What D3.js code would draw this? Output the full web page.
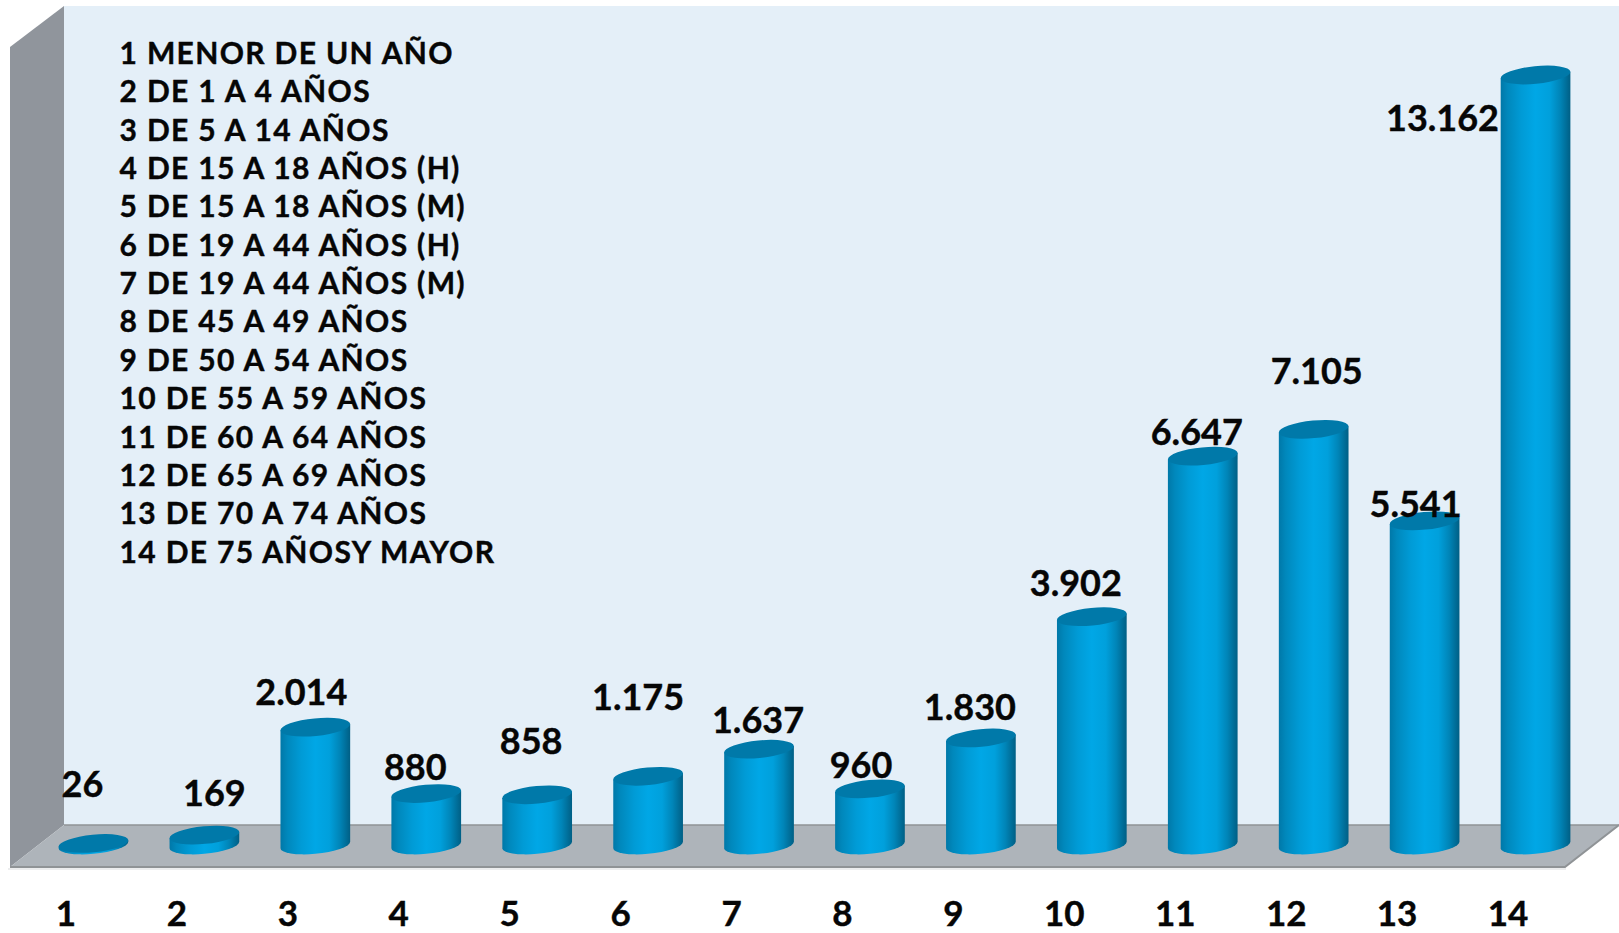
<!DOCTYPE html>
<html><head><meta charset="utf-8">
<script src="https://cdn.jsdelivr.net/npm/d3@7/dist/d3.min.js"></script>
<style>html,body{margin:0;padding:0;background:#fff}svg{display:block}text{font-family:Lato,sans-serif;font-weight:700;fill:#060606;stroke:#060606;stroke-width:.4px}</style>
</head><body><svg id="c" width="1619" height="933"></svg>
<script>
const categories=["1","2","3","4","5","6","7","8","9","10","11","12","13","14"];
const values=[26,169,2014,880,858,1175,1637,960,1830,3902,6647,7105,5541,13162];
const valueLabels=["26","169","2.014","880","858","1.175","1.637","960","1.830","3.902","6.647","7.105","5.541","13.162"];
const legendLines=["1 MENOR DE UN AÑO","2 DE 1 A 4 AÑOS","3 DE 5 A 14 AÑOS","4 DE 15 A 18 AÑOS (H)","5 DE 15 A 18 AÑOS (M)","6 DE 19 A 44 AÑOS (H)","7 DE 19 A 44 AÑOS (M)","8 DE 45 A 49 AÑOS","9 DE 50 A 54 AÑOS","10 DE 55 A 59 AÑOS","11 DE 60 A 64 AÑOS","12 DE 65 A 69 AÑOS","13 DE 70 A 74 AÑOS","14 DE 75 AÑOSY MAYOR"];
// hand-placed label nudges in the original (dx from bar centre, dy from bar top)
const labelNudgeX=[-11,10,-14,-11,-6,-10,-1,-9,-11,-16,-6,3,-9,-93];
const labelNudgeY=[-46,-29,-22,-14,-41,-66,-16,-11,-18,-21,-11,-45,-4,56];

const svg=d3.select("#c");
const x=d3.scaleBand().domain(categories).range([38,1591]).paddingInner(0.378).paddingOuter(0.189);
const y=d3.scaleLinear().domain([0,13162]).range([845,75]);
const defs=svg.append("defs");
const g=defs.append("linearGradient").attr("id","side");
[[0,"#0078a8"],[.1,"#0088bc"],[.3,"#009bd6"],[.5,"#00a7e6"],[.7,"#00a0dc"],[.85,"#0085b8"],[1,"#005f85"]].forEach(s=>g.append("stop").attr("offset",s[0]).attr("stop-color",s[1]));

// walls and floor
svg.append("polygon").attr("points","64,6 1619,6 1619,825 64,825").attr("fill","#e4eff8");
svg.append("polygon").attr("points","10,47 64,6 64,825 10,867").attr("fill","#90959c");
svg.append("polygon").attr("points","10,867 64,825 1619,825 1565,867").attr("fill","#aeb4ba");
svg.append("path").attr("d","M64,825H1619").attr("stroke","#8f9396").attr("stroke-width",1.5);
svg.append("path").attr("d","M10,867H1565L1619,825").attr("fill","none").attr("stroke","#8f9396").attr("stroke-width",2);
svg.append("path").attr("d","M8,869H1566").attr("stroke","#d9dbdd").attr("stroke-width",1);

// cylinders
const rx=35,ry=8.8,phi=-5.5*Math.PI/180;
const t0=Math.atan2(-ry*Math.sin(phi),rx*Math.cos(phi));
const tx=rx*Math.cos(t0)*Math.cos(phi)-ry*Math.sin(t0)*Math.sin(phi);
const ty=rx*Math.cos(t0)*Math.sin(phi)+ry*Math.sin(t0)*Math.cos(phi);
const rot=phi*180/Math.PI;
const marks=svg.append("g").selectAll("g").data(values).join("g")
  .attr("transform",(d,i)=>`translate(${x(categories[i])+x.bandwidth()/2},0)`);
marks.append("path").attr("fill","url(#side)")
  .attr("d",d=>{const b=y(0),t=y(d);
    return `M${-tx},${t-ty}L${-tx},${b-ty}A${rx},${ry} ${rot} 0 0 ${tx},${b+ty}L${tx},${t+ty}Z`;});
marks.append("ellipse").attr("cx",0).attr("cy",d=>y(d)).attr("rx",rx).attr("ry",ry)
  .attr("transform",d=>`rotate(${rot} 0 ${y(d)})`).attr("fill","#0079a9");

// value labels
svg.append("g").selectAll("text").data(values).join("text")
  .attr("text-anchor","middle").attr("font-size",36)
  .attr("x",(d,i)=>x(categories[i])+x.bandwidth()/2+labelNudgeX[i])
  .attr("y",(d,i)=>y(d)+labelNudgeY[i])
  .text((d,i)=>valueLabels[i]);

// category axis
const axis=d3.axisBottom(x).tickSize(0).tickPadding(0);
const ag=svg.append("g").attr("transform","translate(-27.5,900)").call(axis);
ag.select(".domain").remove();
ag.selectAll("text").attr("font-size",35).attr("dy",0).attr("y",25.5);

// legend
svg.append("g").selectAll("text").data(legendLines).join("text")
  .attr("x",119.5).attr("y",(d,i)=>64+i*38.35).attr("font-size",30).attr("letter-spacing",1.35).text(d=>d);
</script></body></html>
